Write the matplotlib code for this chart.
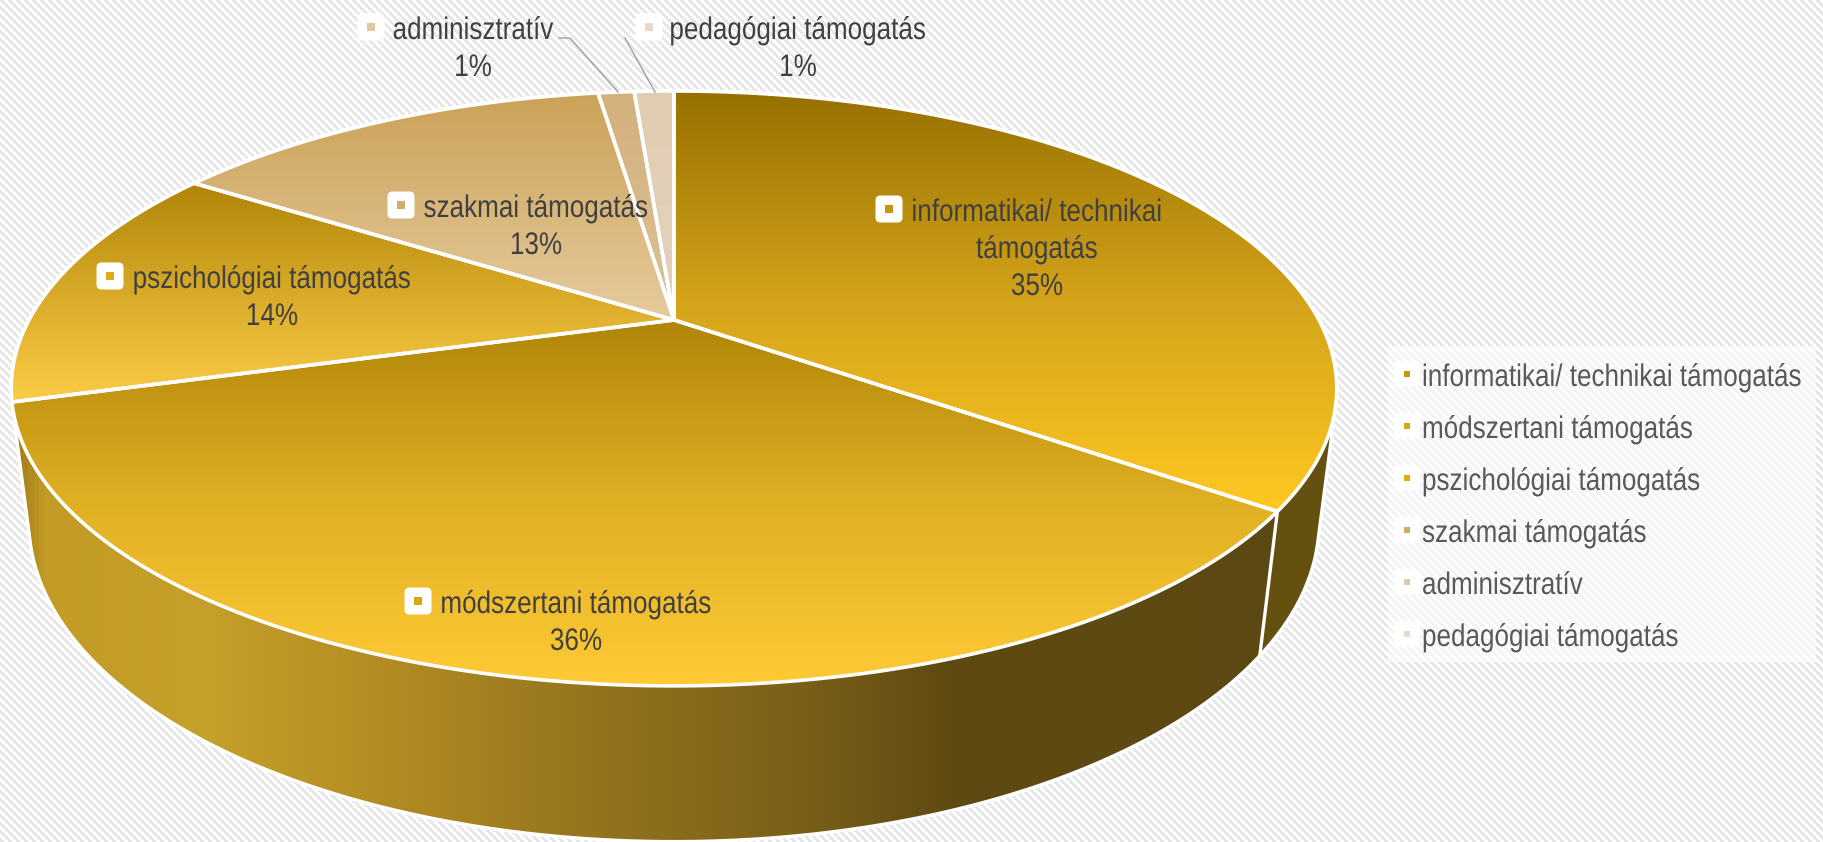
import numpy as np
import matplotlib
matplotlib.use('Agg')
import matplotlib.pyplot as plt
from matplotlib.colors import LinearSegmentedColormap
from matplotlib.patches import PathPatch, FancyBboxPatch, Rectangle
from matplotlib.path import Path
from matplotlib.patheffects import AbstractPathEffect
from matplotlib.transforms import Affine2D

categories = ['informatikai/ technikai támogatás', 'módszertani támogatás', 'pszichológiai támogatás',
              'szakmai támogatás', 'adminisztratív', 'pedagógiai támogatás']
values = [35.0, 35.6, 13.6, 13.49, 1.1, 1.21]
label_lines = [['informatikai/ technikai', 'támogatás'], ['módszertani támogatás'], ['pszichológiai támogatás'],
               ['szakmai támogatás'], ['adminisztratív'], ['pedagógiai támogatás']]

top_colors = [('#967000', '#d4a31a', '#ffc822'), ('#b08508', '#e0b024', '#ffca35'), ('#b08508', '#d8aa28', '#fbcc45'),
              ('#cba257', '#d8b67a', '#e6cb9e'), ('#d3b07c', '#d8b98a', '#dcc197'), ('#e0ccb0', '#e2d0b8', '#e4d3bd')]
chip_colors = ['#c9960c', '#d9a514', '#e0ab18', '#d3ab6c', '#e0c8a4', '#ead9c6']

FONT = 'Liberation Sans'
FS = 22.5
NARROW = 0.834

W, H = 1824, 842
CX, CY = 674, 320
RX, RY = 645, 281.7
K, M, DEPTH = 0.23, 0.026, 133.5


class Squeeze(AbstractPathEffect):
    # Arial Narrow look: squeeze the glyphs sideways around the text anchor
    def __init__(self, ax, x):
        super().__init__()
        self.ax = ax
        self.x = x

    def draw_path(self, renderer, gc, tpath, affine, rgbFace=None):
        a = self.ax.transData.transform((self.x, 0))[0]
        squeeze = Affine2D().translate(-a, 0).scale(NARROW, 1).translate(a, 0)
        renderer.draw_path(gc, tpath, affine + squeeze, rgbFace)


def narrow_text(ax, x, y, s, ha, color):
    return ax.text(x, y, s, ha=ha, va='baseline', fontsize=FS, family=FONT, color=color, zorder=9,
                   path_effects=[Squeeze(ax, x)])


def project(angle, z):
    u, v = np.sin(angle), np.cos(angle)
    w = 1 + K * v + M * z
    return CX + RX * u / w, CY + (-RY * v + DEPTH * z) / w


def convex_hull(points):
    pts = sorted(map(tuple, points))

    def half(seq):
        out = []
        for p in seq:
            while len(out) > 1 and (out[-1][0] - out[-2][0]) * (p[1] - out[-2][1]) \
                    - (out[-1][1] - out[-2][1]) * (p[0] - out[-2][0]) <= 0:
                out.pop()
            out.append(p)
        return out[:-1]

    return np.array(half(pts) + half(pts[::-1]))


def background(ax):
    yy, xx = np.mgrid[0:H, 0:W]
    stripes = ((xx // 2 - yy // 2) % 4) < 2
    img = np.where(stripes, 0.905, 1.0)
    ax.imshow(img, cmap='gray', vmin=0, vmax=1, extent=[0, W, H, 0], aspect='auto', interpolation='nearest', zorder=0)
    ax.add_patch(Rectangle((1388, 346), 428, 316, fc='white', ec='none', alpha=0.5, zorder=1))


def gradient_fill(ax, path, cmap, extent, vertical, zorder):
    patch = PathPatch(path, fc='none', ec='none', zorder=zorder)
    ax.add_patch(patch)
    ramp = np.linspace(0, 1, 256)
    ramp = ramp.reshape(-1, 1) if vertical else ramp.reshape(1, -1)
    im = ax.imshow(ramp, cmap=cmap, extent=extent, aspect='auto', zorder=zorder, vmin=0, vmax=1)
    im.set_clip_path(patch)


def closed(verts):
    return Path(np.vstack([verts, verts[0]]), closed=True)


def draw_walls(ax, edges):
    side_cmap = LinearSegmentedColormap.from_list('side', [
        (0.0, '#a07a15'), (30 / 1320, '#c29c25'), (190 / 1320, '#c5a02a'), (370 / 1320, '#b28c22'),
        (590 / 1320, '#93731e'), (790 / 1320, '#7a5f18'), (940 / 1320, '#5f4a12'), (1, '#5c4812')])
    right_cmap = LinearSegmentedColormap.from_list('right', ['#64500f', '#64500f'])

    t = np.linspace(0, 2 * np.pi, 1500)
    hull = convex_hull(np.vstack([np.column_stack(project(t, 0)), np.column_stack(project(t, 1))]))
    gradient_fill(ax, closed(hull), side_cmap, [13, 1333, H, 0], False, 2)

    # first slice has its own wall, cut off along the line below its corner
    p0, p1 = np.array(project(edges[1], 0)), np.array(project(edges[1], 1))
    d = p1 - p0
    side = d[0] * (hull[:, 1] - p0[1]) - d[1] * (hull[:, 0] - p0[0])
    piece = np.vstack([hull[side < 0], p0, p1])
    mid = piece.mean(axis=0)
    piece = piece[np.argsort(np.arctan2(piece[:, 1] - mid[1], piece[:, 0] - mid[0]))]
    gradient_fill(ax, closed(piece), right_cmap, [13, 1333, H, 0], False, 2)

    ax.add_patch(PathPatch(closed(hull), fc='none', ec='white', lw=2.4, zorder=3))
    ax.plot([p0[0], p1[0]], [p0[1], p1[1]], color='white', lw=2.4, zorder=3)


def draw_top(ax, edges):
    for i in range(len(values)):
        t = np.linspace(edges[i], edges[i + 1], 300)
        x, y = project(t, 0)
        verts = np.vstack([[CX, CY], np.column_stack([x, y]), [CX, CY]])
        path = Path(verts, closed=True)
        cmap = LinearSegmentedColormap.from_list('t%d' % i, top_colors[i])
        ymin, ymax = verts[:, 1].min(), verts[:, 1].max()
        gradient_fill(ax, path, cmap, [verts[:, 0].min(), verts[:, 0].max(), ymax, ymin], True, 4)
        ax.add_patch(PathPatch(path, fc='none', ec='white', lw=2.6, joinstyle='round', zorder=5))


def chip(ax, x, y, size, inner, color):
    ax.add_patch(FancyBboxPatch((x - size / 2 + 4, y - size / 2 + 4), size - 8, size - 8,
                                boxstyle='round,pad=4,rounding_size=5', fc='white', ec='none', zorder=7))
    ax.add_patch(Rectangle((x - inner / 2, y - inner / 2), inner, inner, fc=color, ec='none', zorder=8))


def draw_labels(ax):
    chips = [(889, 209), (418, 601), (110, 276), (401, 205), (371, 27), (649, 27)]
    centers = [1037, 576, 272, 536, 473, 798]
    for i, lines in enumerate(label_lines):
        cx, cy = chips[i]
        chip(ax, cx, cy, 27, 8, chip_colors[i])
        base = cy + 12
        for line in lines + ['%d%%' % round(values[i])]:
            narrow_text(ax, centers[i], base, line, 'center', '#404040')
            base += 37

    ax.plot([559, 570, 618], [38, 38, 92], color='#a6a6a6', lw=1.1, zorder=6)
    ax.plot([625, 655], [38, 92], color='#a6a6a6', lw=1.1, zorder=6)


def draw_legend(fig, ax):
    renderer = fig.canvas.get_renderer()
    for i, name in enumerate(categories):
        y = 374 + i * 52
        chip(ax, 1407, y, 26, 6, chip_colors[i])
        # right anchored, so the squeezed text starts at the same x and its box stays in the figure
        probe = ax.text(0, 0, name, fontsize=FS, family=FONT)
        width = probe.get_window_extent(renderer).width
        probe.remove()
        narrow_text(ax, 1422 + width * NARROW, y + 12, name, 'right', '#595959')


if __name__ == '__main__':
    fig = plt.figure(figsize=(W / 100, H / 100), dpi=100)
    ax = fig.add_axes([0, 0, 1, 1])

    edges = np.concatenate([[0], np.cumsum(values)]) / sum(values) * 2 * np.pi

    background(ax)
    draw_walls(ax, edges)
    draw_top(ax, edges)
    draw_labels(ax)
    draw_legend(fig, ax)

    ax.set_xlim(0, W)
    ax.set_ylim(H, 0)
    ax.axis('off')
    fig.savefig('out.png', dpi=100)
